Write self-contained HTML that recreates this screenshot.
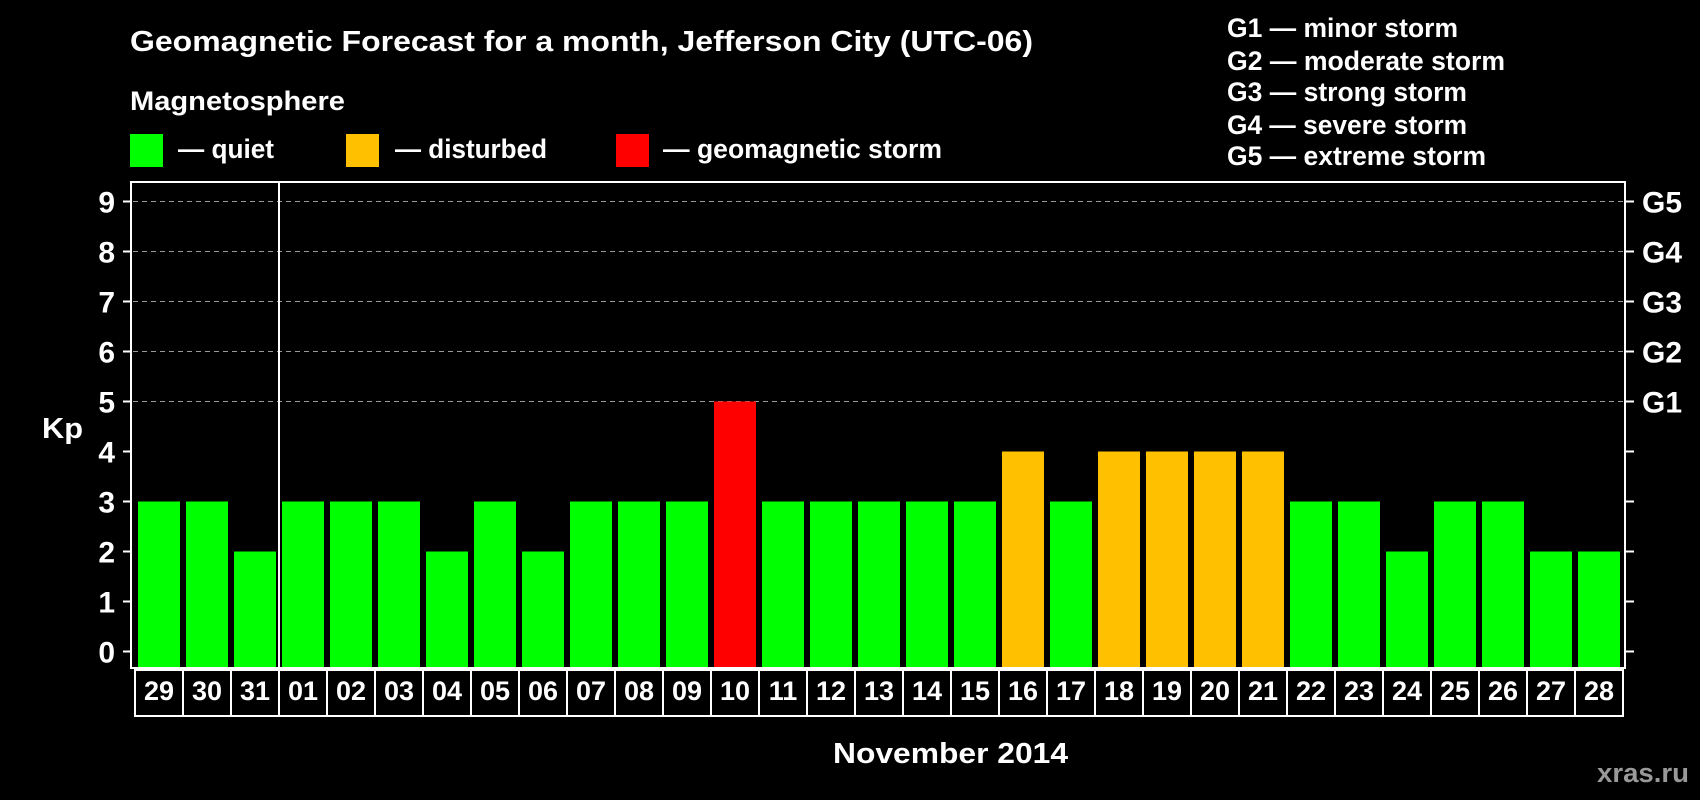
<!DOCTYPE html>
<html><head><meta charset="utf-8"><style>
html,body{margin:0;padding:0;background:#000;}
svg{display:block;font-family:"Liberation Sans",Arial,sans-serif;font-weight:bold;}
</style></head><body>
<svg id="chart" width="1700" height="800" viewBox="0 0 1700 800">
<rect x="0" y="0" width="1700" height="800" fill="#000"/>
<text x="130" y="51" fill="#fff" font-size="29" textLength="903" lengthAdjust="spacingAndGlyphs">Geomagnetic Forecast for a month, Jefferson City (UTC-06)</text>
<text x="130" y="110" fill="#fff" font-size="27" textLength="215" lengthAdjust="spacingAndGlyphs">Magnetosphere</text>
<g><rect x="130" y="134" width="33" height="33" fill="#00ff00"/><text x="178" y="158" fill="#fff" font-size="27" textLength="96" lengthAdjust="spacingAndGlyphs">— quiet</text></g>
<g><rect x="346" y="134" width="33" height="33" fill="#ffc000"/><text x="395" y="158" fill="#fff" font-size="27" textLength="152" lengthAdjust="spacingAndGlyphs">— disturbed</text></g>
<g><rect x="616" y="134" width="33" height="33" fill="#ff0000"/><text x="663" y="158" fill="#fff" font-size="27" textLength="279" lengthAdjust="spacingAndGlyphs">— geomagnetic storm</text></g>
<g fill="#fff" font-size="27">
<text x="1227" y="37" textLength="231" lengthAdjust="spacingAndGlyphs">G1 — minor storm</text>
<text x="1227" y="70" textLength="278" lengthAdjust="spacingAndGlyphs">G2 — moderate storm</text>
<text x="1227" y="101" textLength="240" lengthAdjust="spacingAndGlyphs">G3 — strong storm</text>
<text x="1227" y="134" textLength="240" lengthAdjust="spacingAndGlyphs">G4 — severe storm</text>
<text x="1227" y="165" textLength="259" lengthAdjust="spacingAndGlyphs">G5 — extreme storm</text>
</g>
<g id="grid"></g>
<g id="bars"></g>
<rect x="131" y="182" width="1494" height="486" fill="none" stroke="#fff" stroke-width="2"/>
<line x1="279" y1="182" x2="279" y2="668" stroke="#fff" stroke-width="2"/>
<g id="axes"></g>
<g id="dates"></g>
<text x="42" y="438" fill="#fff" font-size="29" textLength="41" lengthAdjust="spacingAndGlyphs">Kp</text>
<text x="833" y="763" fill="#fff" font-size="29" textLength="235" lengthAdjust="spacingAndGlyphs">November 2014</text>
<text x="1597" y="782" fill="#999" font-size="27" textLength="92" lengthAdjust="spacingAndGlyphs">xras.ru</text>
</svg>
<script>
const days = ["29","30","31","01","02","03","04","05","06","07","08","09","10","11","12","13","14","15","16","17","18","19","20","21","22","23","24","25","26","27","28"];
const kpValues = [3,3,2,3,3,3,2,3,2,3,3,3,5,3,3,3,3,3,4,3,4,4,4,4,3,3,2,3,3,2,2];
const yTicks = [0,1,2,3,4,5,6,7,8,9];
const gLabels = ["G1","G2","G3","G4","G5"];
const gLevels = [5,6,7,8,9];
const NS = "http://www.w3.org/2000/svg";
const y = v => 651.5 - v * 50;
const cellX = i => 135 + i * 48;
const plotBottom = 668;
function mk(tag, attrs, parent){const e=document.createElementNS(NS,tag);for(const k in attrs)e.setAttribute(k,attrs[k]);parent.appendChild(e);return e;}
const grid=document.getElementById('grid'), bars=document.getElementById('bars'), axes=document.getElementById('axes'), dates=document.getElementById('dates');
gLevels.forEach(v=>{
  const l=mk('line',{x1:133,x2:1623,y1:y(v),y2:y(v),stroke:'#999','stroke-width':1,'stroke-dasharray':'5,4'},grid);
  
  
});
yTicks.forEach(v=>{
  const t=mk('line',{x1:123,x2:131,y1:y(v),y2:y(v),stroke:'#fff','stroke-width':2},axes);
  
  
  const r=mk('line',{x1:1625,x2:1634,y1:y(v),y2:y(v),stroke:'#fff','stroke-width':2},axes);
  
  
  const tx=mk('text',{x:115,y:y(v)+11,fill:'#fff','font-size':30,'text-anchor':'end'},axes);
  tx.textContent=v;
  
  
});
gLabels.forEach((g,i)=>{
  const tx=mk('text',{x:1642,y:y(gLevels[i])+11,fill:'#fff','font-size':30},axes);
  tx.textContent=g;
  
  
});
kpValues.forEach((v,i)=>{
  const col = v>=5?'#ff0000':(v>=4?'#ffc000':'#00ff00');
  const b=mk('rect',{x:cellX(i)+3,y:y(v),width:42,height:plotBottom-y(v),fill:col},bars);
  
  
});
days.forEach((d,i)=>{
  const c=mk('rect',{x:cellX(i),y:670,width:48,height:46,fill:'none',stroke:'#fff','stroke-width':2},dates);
  
  
  const tx=mk('text',{x:cellX(i)+24,y:700,fill:'#fff','font-size':27,'text-anchor':'middle'},dates);
  tx.textContent=d;
  
  
});
</script>
</body></html>
